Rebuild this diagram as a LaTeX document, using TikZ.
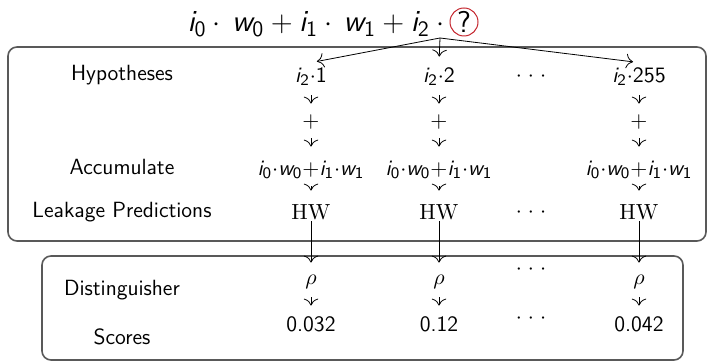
\documentclass[tikz,border=0pt]{standalone}
\usetikzlibrary{arrows.meta}
\renewcommand{\familydefault}{\sfdefault}
\DeclareMathAlphabet{\mathsfit}{TU}{lmss}{m}{sl}
\newcommand{\vv}[2]{\mathsfit{#1}_{\mathsf{#2}}}
\newcommand{\mydots}{${\cdot}\;{\cdot}\;{\cdot}$}
\definecolor{qred}{HTML}{C4262E}
\tikzset{
  box/.style={draw=black!65, line width=0.8pt, rounded corners=4.5pt},
  col/.style={inner sep=0pt, minimum height=14pt, minimum width=10pt},
  lab/.style={inner sep=0pt},
  arr/.style={-{To[scale=1.4]}, line width=0.4pt},
}
\begin{document}
\begin{tikzpicture}[x=0.5pt,y=-0.5pt, font=\fontsize{11}{13}\selectfont]
\useasboundingbox (0,0) rectangle (708,362);
% boxes
\draw[box] (8,47) rectangle (706,241);
\draw[box] (42,256) rectangle (683,360);
% top formula
\node[inner sep=0pt, anchor=east, font=\fontsize{15.3}{17}\selectfont] (formula) at (451,24)
  {$\vv i0\cdot\,\vv w0 + \vv i1\cdot\,\vv w1 + \vv i2\cdot{}$};
\node[draw=qred, circle, line width=0.5pt, inner sep=0pt, minimum size=14pt, font=\fontsize{15}{17}\selectfont] (q) at (464,22) {?};
\coordinate (fan) at (440,38);
% labels
\node[lab] (lhyp) at (122,75) {Hypotheses};
\node[lab] (lacc) at (122,167) {Accumulate};
\node[lab] (lleak) at (122,212) {Leakage Predictions};
\node[lab] (ldist) at (122,290) {Distinguisher};
\node[lab] (lsc) at (122,337) {Scores};
% columns
\foreach \k/\x/\h/\s in {1/311/1/0.032, 2/439/2/0.12, 3/639/255/0.042}{
  \node[col] (h\k) at (\x,77) {$\vv i2{\cdot}\mathsf{\h}$};
  \node[col] (p\k) at (\x,122) {$+$};
  \node[col] (c\k) at (\x,170) {$\vv i0{\cdot}\vv w0{+}\vv i1{\cdot}\vv w1$};
  \node[col] (w\k) at (\x,212) {$\mathrm{HW}$};
  \node[col] (r\k) at (\x,282) {$\rho$};
  \node[col] (s\k) at (\x,324) {\s};
  \draw[arr, shorten >=3pt] (fan) -- (h\k.north);
  \draw[arr, shorten <=2pt, shorten >=2pt] (h\k) -- (p\k);
  \draw[arr, shorten <=1pt, shorten >=4.5pt] (p\k) -- (c\k);
  \draw[arr, shorten <=1pt, shorten >=3.5pt] (c\k) -- (w\k);
  \draw[arr, shorten <=-2.5pt, shorten >=2.5pt] (w\k) -- (r\k);
  \draw[arr, shorten <=0.5pt, shorten >=2pt] (r\k) -- (s\k);
}
% dots
\node[col] (d1) at (531,77) {\mydots};
\node[col] (d2) at (531,213) {\mydots};
\node[col] (d3) at (531,270) {\mydots};
\node[col] (d4) at (531,319) {\mydots};
\end{tikzpicture}
\end{document}
